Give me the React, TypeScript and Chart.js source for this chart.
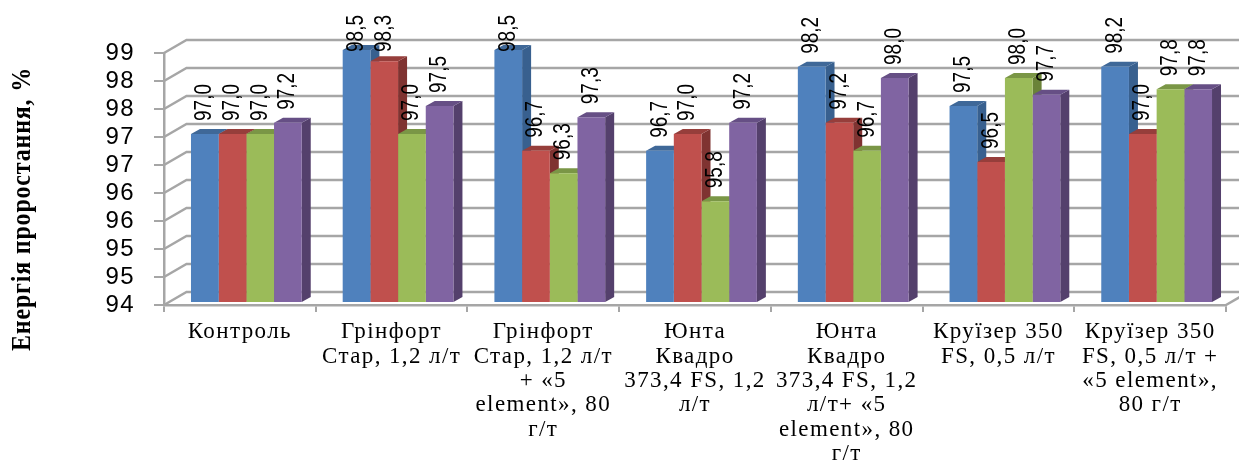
import React, { useEffect, useRef } from "react";
import { Chart, registerables } from "chart.js";

Chart.register(...registerables);

const categories = [
  ["Контроль"],
  ["Грінфорт", "Стар, 1,2 л/т"],
  ["Грінфорт", "Стар, 1,2 л/т", "+ «5", "element», 80", "г/т"],
  ["Юнта", "Квадро", "373,4 FS, 1,2", "л/т"],
  ["Юнта", "Квадро", "373,4 FS, 1,2", "л/т+ «5", "element», 80", "г/т"],
  ["Круїзер 350", "FS, 0,5 л/т"],
  ["Круїзер 350", "FS, 0,5 л/т +", "«5 element»,", "80 г/т"],
];
const seriesA = [97.0, 98.5, 98.5, 96.7, 98.2, 97.5, 98.2];
const seriesB = [97.0, 98.3, 96.7, 97.0, 97.2, 96.5, 97.0];
const seriesC = [97.0, 97.0, 96.3, 95.8, 96.7, 98.0, 97.8];
const seriesD = [97.2, 97.5, 97.3, 97.2, 98.0, 97.7, 97.8];
const yTickLabels = ["94", "95", "95", "96", "96", "97", "97", "98", "98", "99"];
const faceColors = ["#4F81BD", "#C0504D", "#9BBB59", "#8064A2"];
const sideColors = ["#38608F", "#7F3331", "#6A8238", "#54406C"];
const topColors = ["#3F6898", "#963E3B", "#7A9646", "#664F85"];
const axisTitle = "Енергія проростання, %";

const GRID = "#A6A6A6";
const BAR_DX = 6.5;
const BAR_DY = -3;
const DEPTH_X = 9;
const DEPTH_Y = 5;
const WALL_DX = 22.5;
const WALL_DY = -13;
const LABEL_GAP = 13;
const LABEL_TOP = 15;

const poly = (ctx: CanvasRenderingContext2D, pts: number[][], fill: string) => {
  ctx.beginPath();
  pts.forEach(([x, y], i) => (i ? ctx.lineTo(x, y) : ctx.moveTo(x, y)));
  ctx.closePath();
  ctx.fillStyle = fill;
  ctx.fill();
};

const threeD = {
  id: "threeD",
  beforeDraw(chart: any) {
    chart.ctx.letterSpacing = "1.4px";
  },
  beforeDatasetsDraw(chart: any) {
    const { ctx, chartArea: a, scales, width } = chart;
    const y = scales.y;
    ctx.save();
    ctx.strokeStyle = GRID;
    ctx.lineWidth = 2.5;
    y.ticks.forEach((t: any) => {
      const py = y.getPixelForValue(t.value);
      ctx.beginPath();
      ctx.moveTo(a.left, py);
      ctx.lineTo(a.left + WALL_DX, py + WALL_DY);
      ctx.lineTo(width, py + WALL_DY);
      ctx.stroke();
    });
    ctx.beginPath();
    ctx.moveTo(a.right, a.bottom);
    ctx.lineTo(a.right + WALL_DX, a.bottom + WALL_DY);
    ctx.stroke();
    ctx.translate(BAR_DX, BAR_DY);
    chart.data.datasets.forEach((_: any, d: number) => {
      chart.getDatasetMeta(d).data.forEach((b: any) => {
        const l = b.x - b.width / 2;
        const r = b.x + b.width / 2;
        const base = a.bottom;
        poly(ctx, [[r, b.y], [r + DEPTH_X, b.y - DEPTH_Y], [r + DEPTH_X, base - DEPTH_Y], [r, base]], sideColors[d]);
        poly(ctx, [[l, b.y], [l + DEPTH_X, b.y - DEPTH_Y], [r + DEPTH_X, b.y - DEPTH_Y], [r, b.y]], topColors[d]);
      });
    });
  },
  afterDatasetsDraw(chart: any) {
    const { ctx, chartArea: a } = chart;
    ctx.restore();
    ctx.save();
    ctx.fillStyle = "#000";
    ctx.letterSpacing = "0px";
    ctx.font = '19px "Liberation Sans"';
    ctx.textAlign = "left";
    ctx.textBaseline = "middle";
    chart.data.datasets.forEach((ds: any, d: number) => {
      chart.getDatasetMeta(d).data.forEach((b: any, i: number) => {
        const text = ds.data[i].toFixed(1).replace(".", ",");
        const w = ctx.measureText(text).width;
        const bottom = Math.max(b.y + BAR_DY - LABEL_GAP, LABEL_TOP + w);
        ctx.save();
        ctx.translate(b.x + BAR_DX, bottom);
        ctx.rotate(-Math.PI / 2);
        ctx.scale(1, 1.25);
        ctx.fillText(text, 0, 0);
        ctx.restore();
      });
    });
    ctx.letterSpacing = "0.8px";
    ctx.font = 'bold 24px "Liberation Serif"';
    ctx.textAlign = "center";
    ctx.translate(23, a.top + 156);
    ctx.rotate(-Math.PI / 2);
    ctx.scale(1, 1.15);
    ctx.fillText(axisTitle, 0, 0);
    ctx.restore();
  },
};

export default function App() {
  const ref = useRef<HTMLCanvasElement>(null);
  useEffect(() => {
    const chart = new Chart(ref.current!, {
      type: "bar",
      data: {
        labels: categories,
        datasets: [seriesA, seriesB, seriesC, seriesD].map((data, i) => ({
          label: `S${i + 1}`,
          data,
          backgroundColor: faceColors[i],
          borderWidth: 0,
          barPercentage: 1,
          categoryPercentage: 0.73,
        })),
      },
      options: {
        animation: false,
        responsive: false,
        layout: { padding: { top: 53, right: 13, left: 0, bottom: 0 } },
        plugins: { legend: { display: false }, tooltip: { enabled: false } },
        scales: {
          x: {
            afterFit(s: any) { s.height = 156; },
            border: { color: GRID, width: 2.5 },
            grid: { drawOnChartArea: false, color: GRID, lineWidth: 2, tickLength: 7 },
            ticks: {
              color: "#000",
              maxRotation: 0,
              minRotation: 0,
              autoSkip: false,
              padding: 8,
              font: { family: '"Liberation Serif"', size: 23, lineHeight: 1.06 },
            },
          },
          y: {
            min: 94,
            max: 98.5,
            afterFit(s: any) { s.width = 164; },
            border: { color: GRID, width: 2.5 },
            grid: { drawOnChartArea: false, color: GRID, lineWidth: 2, tickLength: 10 },
            ticks: {
              stepSize: 0.5,
              color: "#000",
              padding: 19,
              autoSkip: false,
              font: { family: '"Liberation Sans"', size: 24 },
              callback: (_: any, i: number) => yTickLabels[i],
            },
          },
        },
      },
      plugins: [threeD],
    } as any);
    return () => chart.destroy();
  }, []);
  return (
    <div style={{ position: "absolute", left: 0, top: 0, width: 1239, height: 461, background: "#fff" }}>
      <canvas ref={ref} width={1239} height={461} style={{ display: "block" }} />
    </div>
  );
}
